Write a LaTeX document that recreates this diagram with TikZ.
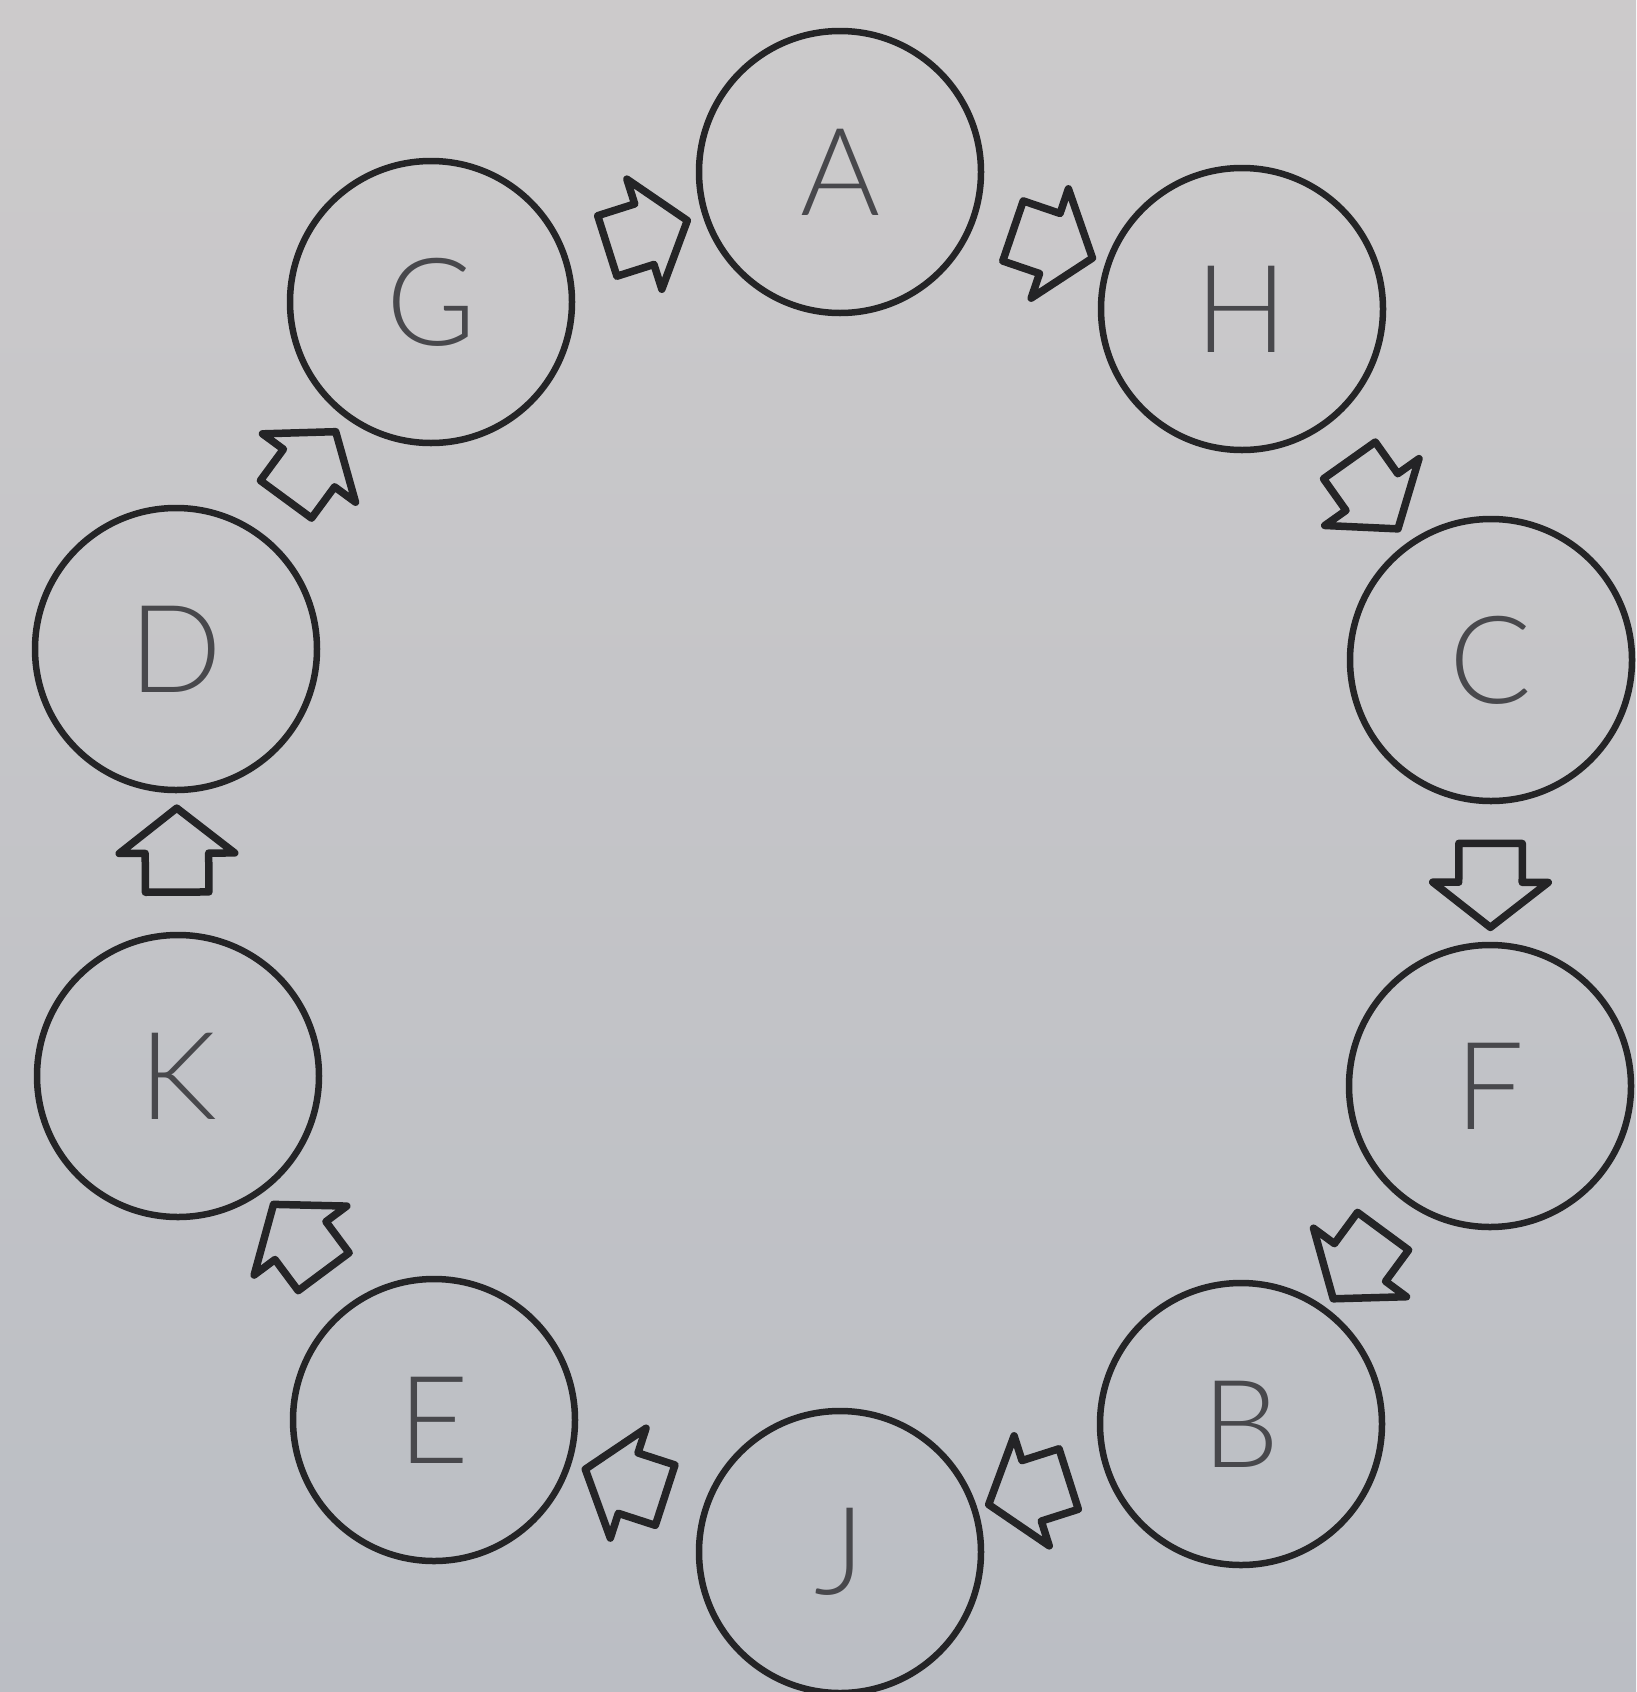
\documentclass[tikz,border=0pt]{standalone}
\usepackage{fontspec}
\setsansfont{Lato}[UprightFont={* Light}]
\usetikzlibrary{shapes.arrows}
\definecolor{bgtop}{RGB}{204,202,203}
\definecolor{bgbot}{RGB}{187,190,196}
\definecolor{ink}{RGB}{36,36,38}
\definecolor{pencil}{RGB}{72,72,76}
\begin{document}
\begin{tikzpicture}[x=1pt,y=1pt,
  stage/.style={circle, draw=ink, line width=6.5pt, minimum size=282pt, inner sep=0pt,
    text=pencil, font=\fontsize{122}{122}\selectfont\sffamily},
  blockarrow/.style={single arrow, draw=ink, line width=7.5pt, line join=round,
    inner xsep=0pt, inner ysep=28pt,
    minimum height=84pt, single arrow head extend=26pt,
    single arrow tip angle=104, sloped, allow upside down, pos=0.5}]
\shade[top color=bgtop, bottom color=bgbot] (0,0) rectangle (1636,-1692);
\useasboundingbox (0,0) rectangle (1636,-1692);
\node[stage] (A) at (840,-172) {A};
\node[stage] (H) at (1242,-309) {H};
\node[stage] (C) at (1491,-660) {C};
\node[stage] (F) at (1490,-1086) {F};
\node[stage] (B) at (1241,-1424) {B};
\node[stage] (J) at (840,-1552) {J};
\node[stage] (E) at (434,-1420) {E};
\node[stage] (K) at (178,-1076) {K};
\node[stage] (D) at (176,-649) {D};
\node[stage] (G) at (431,-302) {G};
\path (G) -- node[blockarrow] (ga) {} (A);
\path (A) -- node[blockarrow] (ah) {} (H);
\path (H) -- node[blockarrow] (hc) {} (C);
\path (C) -- node[blockarrow] (cf) {} (F);
\path (F) -- node[blockarrow] (fb) {} (B);
\path (B) -- node[blockarrow] (bj) {} (J);
\path (J) -- node[blockarrow] (je) {} (E);
\path (E) -- node[blockarrow] (ek) {} (K);
\path (K) -- node[blockarrow] (kd) {} (D);
\path (D) -- node[blockarrow] (dg) {} (G);
\end{tikzpicture}
\end{document}
